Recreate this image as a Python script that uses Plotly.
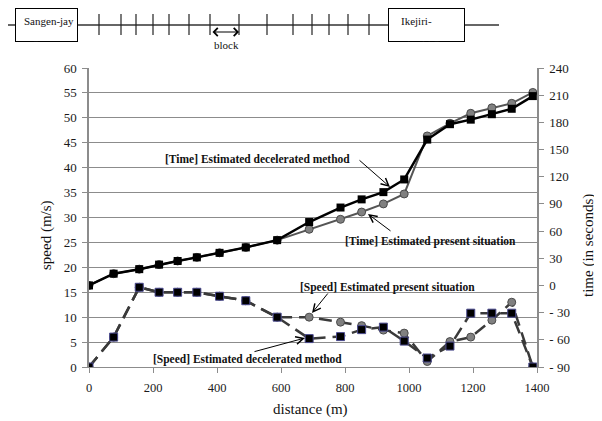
import plotly.graph_objects as go

# ---------------- data ----------------
distance = [0, 77, 157, 219, 277, 337, 408, 490, 588, 688, 786, 852, 920, 985,
            1057, 1128, 1193, 1259, 1321, 1387]
speed_decelerated = [0, 6.0, 16.0, 15.0, 15.0, 15.0, 14.2, 13.3, 10.0, 5.7, 6.1,
                     7.5, 8.0, 5.2, 1.8, 4.2, 10.8, 10.8, 10.8, 0]
speed_present = [0, 6.0, 16.0, 15.0, 15.0, 15.0, 14.2, 13.3, 10.0, 10.0, 9.0,
                 8.3, 7.4, 6.8, 1.1, 5.1, 6.0, 9.4, 13.0, 0]
time_decelerated = [0, 13, 18, 23, 27, 31, 36, 42, 50, 70, 86, 95, 103, 117,
                    161, 178, 183, 189, 195, 209]
time_present = [0, 13, 18, 23, 27, 31, 36, 42, 50, 62, 73, 81, 90, 101,
                165, 179, 190, 196, 201, 213]

speed_ticks = list(range(0, 61, 5))
time_ticks = list(range(-90, 241, 30))
time_tick_labels = [("- " + str(-v)) if v < 0 else str(v) for v in time_ticks]
distance_ticks = list(range(0, 1401, 200))

station_first_lines = ["Sangen-jay", "Ikejiri-"]
station_second_lines = ["a St.", "ohashi St."]
label_time_dec = "[Time] Estimated decelerated method"
label_time_pre = "[Time] Estimated present situation"
label_speed_pre = "[Speed] Estimated present situation"
label_speed_dec = "[Speed] Estimated decelerated method"

# ---------------- layout helpers ----------------
# the page body has an 8px margin, so the figure starts at (8, 8) of the window
OFF = 8
W, H = 602 - OFF, 421 - OFF
PLOT_L, PLOT_R, PLOT_T, PLOT_B = 89, 537, 68, 367   # window pixels
L, R = PLOT_L - OFF, 602 - PLOT_R
T, B = PLOT_T - OFF, 421 - PLOT_B
PW, PH = PLOT_R - PLOT_L, PLOT_B - PLOT_T
SERIF = "Liberation Serif"
GRID = "#8c8c8c"


def fx(px):
    return (px - PLOT_L) / PW


def fy(py):
    return (PLOT_B - py) / PH


fig = go.Figure()

# time (right axis)
fig.add_trace(go.Scatter(
    x=distance, y=time_present, yaxis="y2", mode="lines+markers",
    line=dict(color="#555555", width=2),
    marker=dict(symbol="circle", size=8, color="#808080",
                line=dict(color="#4a4a4a", width=1)),
    showlegend=False))
fig.add_trace(go.Scatter(
    x=distance, y=time_decelerated, yaxis="y2", mode="lines+markers",
    line=dict(color="#000000", width=2.5),
    marker=dict(symbol="square", size=8, color="#000000"),
    showlegend=False))
# speed (left axis)
fig.add_trace(go.Scatter(
    x=distance, y=speed_present, mode="lines+markers",
    line=dict(color="#3a3a3a", width=2.5, dash="13px,7px"),
    marker=dict(symbol="circle", size=8, color="#808080",
                line=dict(color="#4a4a4a", width=1)),
    showlegend=False))
fig.add_trace(go.Scatter(
    x=distance, y=speed_decelerated, mode="lines+markers",
    line=dict(color="#3a3a3a", width=2.5, dash="13px,7px"),
    marker=dict(symbol="square", size=8, color="#000000",
                line=dict(color="#4b4b90", width=1)),
    showlegend=False))

shapes = []
annotations = []

# ---- station / block diagram at the top ----
diagram_line = (8, 499, 25)
diagram_ticks = [99, 121, 136, 153, 169, 189, 210, 239, 267, 293, 312, 329, 348, 369]
shapes.append(dict(type="line", xref="paper", yref="paper",
                   x0=fx(diagram_line[0]), x1=fx(diagram_line[1]),
                   y0=fy(diagram_line[2]), y1=fy(diagram_line[2]),
                   line=dict(color="#333333", width=1.3)))
for t in diagram_ticks:
    shapes.append(dict(type="line", xref="paper", yref="paper",
                       x0=fx(t), x1=fx(t), y0=fy(14), y1=fy(35),
                       line=dict(color="#222222", width=1.2)))

box_font = dict(family=SERIF, size=11, color="#111111")
station_boxes = [(15, 8, 63, 34, 22), (388, 8, 77, 34, 399)]
for first, second, (bx, by, bw, bh, tx) in zip(station_first_lines,
                                               station_second_lines,
                                               station_boxes):
    pad = 0
    # the box itself
    annotations.append(dict(
        xref="paper", yref="paper", x=fx(bx), y=fy(by),
        xanchor="left", yanchor="top", text=" ", showarrow=False,
        width=bw - 2 * (pad + 1), height=bh - 2 * (pad + 1),
        borderpad=pad, borderwidth=1, bordercolor="#000000",
        bgcolor="#ffffff", font=box_font))
    # first line of the station name
    annotations.append(dict(
        xref="paper", yref="paper", x=fx(tx), y=fy(21),
        xanchor="left", yanchor="middle", text=first, showarrow=False,
        font=box_font))
    # second line, cut off by the bottom edge of the box
    annotations.append(dict(
        xref="paper", yref="paper", x=fx(tx + 1), y=fy(44),
        xanchor="left", yanchor="middle", text=second, showarrow=False,
        font=box_font))
    annotations.append(dict(
        xref="paper", yref="paper", x=fx(bx - 2), y=fy(by + bh + 0.5),
        xanchor="left", yanchor="top", text=" ", showarrow=False,
        width=bw + 6, height=12, borderpad=0, borderwidth=0,
        bgcolor="#ffffff", font=box_font))

# block arrow
annotations.append(dict(xref="paper", yref="paper", x=fx(239), y=fy(32),
                        ax=-28, ay=0, text="", showarrow=True,
                        arrowside="end+start", arrowhead=4, arrowsize=1.3,
                        arrowwidth=1.2, arrowcolor="#000000"))
annotations.append(dict(xref="paper", yref="paper", x=fx(226), y=fy(45),
                        xanchor="center", yanchor="middle",
                        text="block", showarrow=False,
                        font=dict(family=SERIF, size=11, color="#111111")))

# ---- series labels and pointer arrows ----
label_font = dict(family=SERIF, size=11.5, color="#111111")
for text, cx, cy in [(label_time_dec, 257, 159), (label_time_pre, 430, 241),
                     (label_speed_pre, 387, 287), (label_speed_dec, 247, 359)]:
    annotations.append(dict(xref="paper", yref="paper", x=fx(cx), y=fy(cy),
                            xanchor="center", yanchor="middle",
                            text="<b>" + text + "</b>", showarrow=False,
                            font=label_font))

pointer_arrows = [((358, 159), (390, 187)), ((392, 232), (368, 214)),
                  ((329, 292), (312, 313)), ((253, 352), (305, 338))]
for (tx, ty), (hx, hy) in pointer_arrows:
    annotations.append(dict(xref="paper", yref="paper", x=fx(hx), y=fy(hy),
                            ax=tx - hx, ay=ty - hy, text="", showarrow=True,
                            arrowhead=5, arrowsize=1.5, arrowwidth=1,
                            arrowcolor="#000000"))

# ---- axis titles ----
title_font = dict(family=SERIF, size=15, color="#111111")
annotations.append(dict(xref="paper", yref="paper", x=fx(46), y=fy(235),
                        xanchor="center", yanchor="middle",
                        text="speed (m/s)", textangle=-90, showarrow=False,
                        font=title_font))
annotations.append(dict(xref="paper", yref="paper", x=fx(588), y=fy(246),
                        xanchor="center", yanchor="middle",
                        text="time (in seconds)", textangle=-90, showarrow=False,
                        font=title_font))
annotations.append(dict(xref="paper", yref="paper", x=fx(310), y=fy(409),
                        xanchor="center", yanchor="middle",
                        text="distance (m)", showarrow=False, font=title_font))

tick_font = dict(family=SERIF, size=13, color="#1a1a1a")

fig.update_layout(
    template="none",
    width=W, height=H,
    margin=dict(l=L, r=R, t=T, b=B, pad=0),
    paper_bgcolor="#ffffff", plot_bgcolor="#ffffff",
    showlegend=False,
    xaxis=dict(range=[0, 1400], tickvals=distance_ticks, showgrid=False,
               zeroline=False, showline=True, linecolor=GRID, linewidth=1,
               ticks="outside", ticklen=5, tickcolor=GRID,
               ticklabelstandoff=4, automargin=False,
               tickfont=dict(family=SERIF, size=12.5, color="#1a1a1a")),
    yaxis=dict(range=[0, 60], tickvals=speed_ticks, showgrid=True,
               gridcolor=GRID, gridwidth=1, zeroline=False, showline=True,
               linecolor=GRID, linewidth=1.5, ticks="outside", ticklen=5,
               tickcolor=GRID, ticklabelstandoff=3, automargin=False,
               tickfont=tick_font),
    yaxis2=dict(range=[-90, 240], tickvals=time_ticks, ticktext=time_tick_labels,
                overlaying="y", side="right", showgrid=False, zeroline=False,
                showline=True, linecolor=GRID, linewidth=1.5, ticks="outside",
                ticklen=5, tickcolor=GRID, ticklabelstandoff=3,
                automargin=False, tickfont=tick_font),
    shapes=shapes,
    annotations=annotations,
)

fig.write_html("out.html")
